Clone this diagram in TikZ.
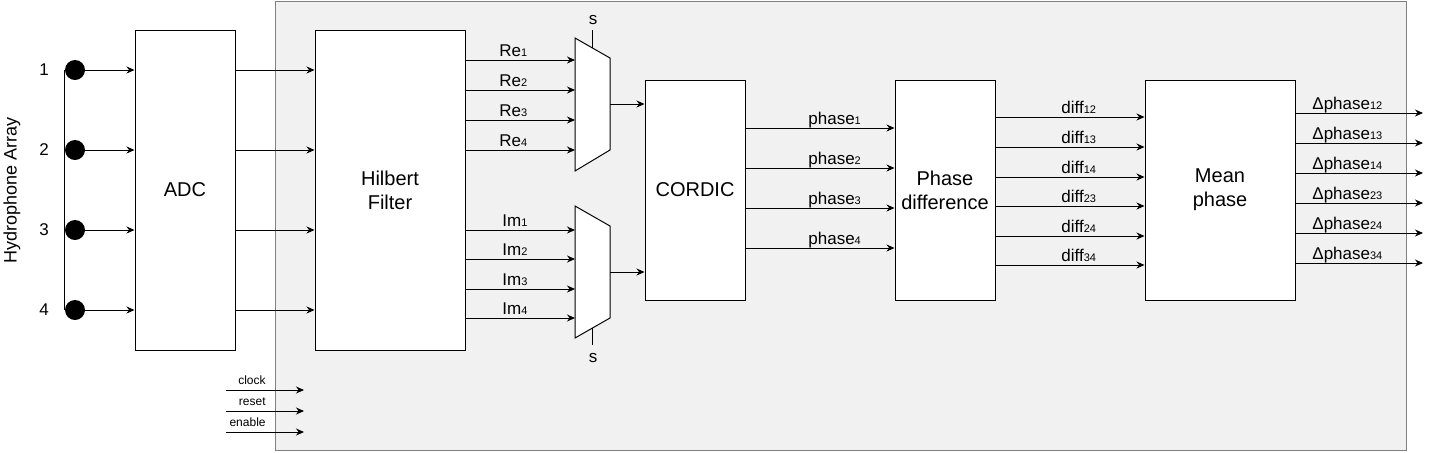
\documentclass[tikz,border=0pt]{standalone}
\usepackage{fontspec}
\setmainfont{Liberation Sans}
\usetikzlibrary{arrows.meta, positioning, calc}
\definecolor{regionfill}{RGB}{241,241,241}
\definecolor{regionline}{RGB}{128,128,128}
\newcommand{\idx}[1]{{\fontsize{5.5}{6}\selectfont #1}}
\tikzset{
    block/.style={
        rectangle, draw=black, line width=0.5pt, fill=white,
        align=center, inner sep=0pt, font=\fontsize{10}{12}\selectfont
    },
    connection/.style={draw=black, line width=0.5pt, -{Stealth[length=4pt, width=3.5pt]}},
    muxshape/.style={draw=black, line width=0.5pt, fill=white},
    sensor/.style={circle, fill=black, minimum size=10pt, inner sep=0pt},
    siglabel/.style={anchor=base west, inner sep=0pt, font=\fontsize{8.5}{10}\selectfont},
    ctrllabel/.style={anchor=base east, inner sep=0pt, font=\fontsize{6}{7}\selectfont},
    numlabel/.style={inner sep=0pt, font=\fontsize{8.5}{10}\selectfont}
}
\begin{document}
\begin{tikzpicture}[x=0.5pt, y=-0.5pt]
    \useasboundingbox (0,0) rectangle (1436,452);

    % Processing region
    \draw[fill=regionfill, draw=regionline, line width=0.5pt] (275,1) rectangle (1406,450);

    % Hydrophone array
    \node[numlabel, rotate=90, font=\fontsize{9}{10}\selectfont] (array) at (12,190) {Hydrophone Array};
    \foreach \i/\y in {1/70,2/150,3/230,4/310} {
        \node[sensor] (h\i) at (75,\y) {};
        \node[numlabel] (n\i) at (44,\y) {\i};
    }
    \draw[line width=0.5pt] (h1.west) -- (h4.west);

    % Blocks
    \node[block, minimum width=50pt, minimum height=160pt] (adc) at (185,190) {ADC};
    \node[block, minimum width=75pt, minimum height=160pt] (hil) at (390,190) {Hilbert\\Filter};
    \node[block, minimum width=50pt, minimum height=110pt] (cordic) at (695,190) {CORDIC};
    \node[block, minimum width=50pt, minimum height=110pt] (pdiff) at (945,190) {Phase\\difference};
    \node[block, minimum width=75pt, minimum height=110pt] (mean) at (1220,190) {Mean\\phase};

    % Multiplexers
    \draw[muxshape] (575,38) coordinate (retl) -- (610,58) coordinate (retr)
        -- (610,150) coordinate (rebr) -- (575,171) coordinate (rebl) -- cycle;
    \draw[muxshape] (575,206) coordinate (imtl) -- (610,226) coordinate (imtr)
        -- (610,318) coordinate (imbr) -- (575,338) coordinate (imbl) -- cycle;
    \coordinate (resel) at ($(retl)!0.5!(retr)$);
    \coordinate (imsel) at ($(imbl)!0.5!(imbr)$);
    \node[numlabel] (res) at (593,20) {s};
    \node[numlabel] (ims) at (593,358) {s};
    \draw[line width=0.5pt] (resel) -- (resel |- 0,30);
    \draw[line width=0.5pt] (imsel) -- (imsel |- 0,345);

    % Sensors to ADC to Hilbert
    \foreach \i in {1,...,4} {
        \draw[connection] (h\i) -- (adc.west |- h\i);
        \draw[connection] (adc.east |- h\i) -- (hil.west |- h\i);
    }

    % Hilbert outputs
    \foreach \i/\y in {1/60,2/90,3/120,4/150} {
        \draw[connection] (hil.east |- 0,\y) -- (retl |- 0,\y);
        \node[siglabel] (re\i) at (499,\y-4) {Re\idx{\i}};
    }
    \foreach \i/\y in {1/230,2/259,3/289,4/318} {
        \draw[connection] (hil.east |- 0,\y) -- (imtl |- 0,\y);
        \node[siglabel] (im\i) at (502,\y-4) {Im\idx{\i}};
    }

    % Mux outputs
    \draw[connection] ($(retr)!0.5!(rebr)$) -- (cordic.west |- 0,104);
    \draw[connection] ($(imtr)!0.5!(imbr)$) -- (cordic.west |- 0,272);

    % Phases
    \foreach \i/\y in {1/128,2/168,3/208,4/248} {
        \draw[connection] (cordic.east |- 0,\y) -- (pdiff.west |- 0,\y);
        \node[siglabel] (ph\i) at (808,\y-4) {phase\idx{\i}};
    }

    % Differences
    \foreach \p/\y in {12/117,13/147,14/177,23/206,24/236,34/265} {
        \draw[connection] (pdiff.east |- 0,\y) -- (mean.west |- 0,\y);
        \node[siglabel] (d\p) at (1061,\y-4) {diff\idx{\p}};
    }

    % Outputs
    \foreach \p/\y in {12/113,13/143,14/173,23/203,24/233,34/263} {
        \coordinate (out\p) at (1423,\y);
        \draw[connection] (mean.east |- out\p) -- (out\p);
        \node[siglabel] (dp\p) at (1312,\y-4) {Δphase\idx{\p}};
    }

    % Control inputs
    \foreach \s/\y in {clock/390,reset/411,enable/432} {
        \coordinate (\s a) at (226,\y);
        \coordinate (\s b) at (304,\y);
        \draw[connection] (\s a) -- (\s b);
        \node[ctrllabel] (\s) at (266,\y-6) {\s};
    }
\end{tikzpicture}
\end{document}
